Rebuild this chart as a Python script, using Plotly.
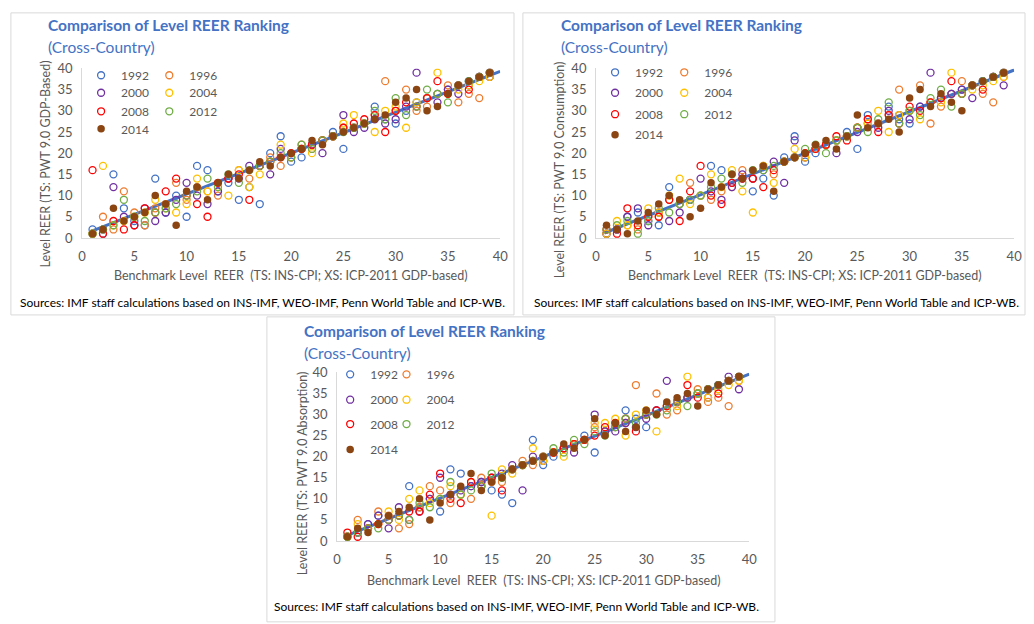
import numpy as np
import plotly.graph_objects as go

W, H = 1034, 624

years = ["1992", "1996", "2000", "2004", "2008", "2012", "2014"]
colors = ["#4472C4", "#ED7D31", "#7030A0", "#FFC000", "#FF0000", "#70AD47", "#8B4513"]
x_rank = list(range(1, 40))

# Panel 1: PWT 9.0 GDP-Based
p1_1992 = [2,1,15,7,4,3,14,6,10,5, 17,16,11,13,9,12,8,20,24,18, 19,22,23,25,21,26,27,31,28,27, 30,32,33,34,35,36,37,38,39]
p1_1996 = [1,5,2,11,6,3,7,8,13,9, 12,11,10,14,16,14,17,19,17,19, 22,21,23,24,26,26,27,29,37,30, 35,30,31,34,36,32,34,33,38]
p1_2000 = [1,2,12,5,3,7,4,6,9,13, 10,8,11,14,14,17,17,15,21,19, 21,22,20,24,29,25,26,28,27,28, 31,39,33,32,35,34,36,38,38]
p1_2004 = [1,17,3,4,5,6,9,7,6,8, 14,11,12,10,16,12,15,18,22,19, 21,20,23,24,27,29,27,25,30,31, 26,32,33,39,34,35,36,37,38]
p1_2008 = [16,1,4,2,3,7,6,11,14,10, 8,5,13,14,15,9,17,18,19,20, 21,22,23,24,26,27,28,29,25,30, 32,31,33,37,34,36,35,38,39]
p1_2012 = [1,2,3,9,5,4,6,7,8,10, 11,14,12,15,13,16,17,18,20,19, 22,21,23,24,25,26,27,30,28,33, 29,31,35,34,32,36,37,38,39]
p1_2014 = [1,2,7,4,5,6,10,8,3,11, 12,9,13,15,14,16,18,17,19,20, 21,23,22,24,25,26,27,28,29,32, 33,35,30,31,34,36,37,38,39]

# Panel 2: PWT 9.0 Consumption
p2_1992 = [1,2,5,6,4,3,12,8,9,10, 17,16,13,14,11,14,10,19,24,18, 20,22,23,25,21,29,27,31,28,27, 31,32,33,34,35,36,37,38,39]
p2_1996 = [1,2,3,2,5,5,9,8,13,10, 9,11,12,16,14,17,15,18,19,19, 21,22,23,24,26,28,27,29,35,30, 36,27,31,34,37,36,34,32,38]
p2_2000 = [1,2,5,7,3,6,4,6,9,14, 11,9,12,15,14,16,18,13,23,19, 21,22,20,24,25,27,26,30,29,28, 31,39,33,34,35,33,37,38,36]
p2_2004 = [1,4,3,3,7,6,10,14,8,10, 15,12,16,11,6,17,13,18,21,19, 21,22,23,24,26,27,30,25,29,30, 28,32,32,39,34,35,36,37,38]
p2_2008 = [2,1,7,3,5,5,9,4,11,17, 10,8,13,14,14,12,16,18,19,20, 21,22,24,23,26,28,25,29,27,31, 30,32,33,37,34,36,35,38,39]
p2_2012 = [2,3,4,1,4,7,6,8,9,10, 12,14,15,13,16,16,17,18,19,21, 22,20,23,24,26,25,28,32,27,30, 29,33,35,31,34,36,37,38,39]
p2_2014 = [3,2,1,4,6,8,10,9,5,7, 13,12,15,14,16,17,11,18,19,20, 22,23,21,24,29,26,27,28,25,33, 35,31,34,32,30,36,37,38,39]

# Panel 3: PWT 9.0 Absorption
p3_1992 = [1,2,4,6,5,6,13,8,10,7, 17,16,13,14,12,11,9,18,24,18, 20,22,23,25,21,26,27,31,29,27, 31,32,33,34,35,36,37,38,39]
p3_1996 = [1,5,3,7,6,3,4,8,13,12, 9,11,10,15,14,14,17,19,18,19, 21,22,23,24,27,26,27,28,37,30, 35,30,31,34,36,33,34,32,38]
p3_2000 = [1,2,4,6,3,8,5,7,10,15, 11,12,13,14,15,16,18,12,20,19, 21,22,21,24,30,26,26,28,27,29, 31,38,33,34,35,34,37,39,36]
p3_2004 = [1,4,3,4,7,5,10,12,9,10, 13,11,14,13,6,17,16,18,22,19, 21,20,23,24,28,28,29,25,30,31, 26,32,32,39,35,34,36,37,38]
p3_2008 = [2,1,3,4,5,6,7,7,11,16, 10,9,14,13,15,12,17,18,19,20, 21,22,23,24,25,27,28,29,26,30, 31,32,33,37,34,36,35,38,39]
p3_2012 = [1,2,3,3,5,6,5,9,8,10, 14,11,12,13,16,15,17,18,19,20, 22,21,24,23,26,25,27,29,28,30, 30,31,33,32,35,36,37,38,39]
p3_2014 = [1,3,2,4,6,7,8,10,5,9, 11,13,16,12,14,15,17,18,19,20, 21,23,22,24,29,25,28,26,27,31, 30,33,34,35,32,36,37,38,39]

y_titles = ["Level REER (TS: PWT 9.0 GDP-Based)",
            "Level REER (TS: PWT 9.0 Consumption)",
            "Level REER (TS: PWT 9.0 Absorption)"]
x_title = "Benchmark Level  REER  (TS: INS-CPI; XS: ICP-2011 GDP-based)"
title_text = "Comparison of Level REER Ranking"
subtitle_text = "(Cross-Country)"
source_text = "Sources: IMF staff calculations based on INS-IMF, WEO-IMF, Penn World Table and ICP-WB."
x_ticks = [0, 5, 10, 15, 20, 25, 30, 35, 40]

panels_data = [
    [p1_1992, p1_1996, p1_2000, p1_2004, p1_2008, p1_2012, p1_2014],
    [p2_1992, p2_1996, p2_2000, p2_2004, p2_2008, p2_2012, p2_2014],
    [p3_1992, p3_1996, p3_2000, p3_2004, p3_2008, p3_2012, p3_2014],
]

FONT = "Lato, Carlito, Calibri, sans-serif"
GRAY = "#595959"
BLUE = "#4472C4"

# layout geometry in pixels
plot_boxes = [(79, 502, 62, 236), (599, 1022, 62, 236), (337, 754, 374, 547)]
frames = [(7, 5, 516, 315), (525, 5, 1033, 315), (266, 317, 780, 630)]
title_pos = [(42, 17), (562, 17), (302, 331)]
sub_pos = [(42, 40), (562, 40), (302, 354)]
ytitle_pos = [(42, 160), (562, 166), (302, 477)]
xtitle_pos = [(290, 275), (810, 275), (546, 588)]
src_pos = [(262, 302), (782, 302), (519, 614)]
leg_cols = [(113, 172), (633, 693), (365, 412)]
leg_rows = [(74, 92, 111, 129), (71, 92, 114, 135), (381, 407, 432, 458)]
leg_shift = (-15, -5)   # symbol offset per column (plotly puts text 20px after the symbol)

def px(x):
    return x / W

def py(y):
    return 1 - y / H

fig = go.Figure()
layout = dict(width=W, height=H, margin=dict(l=0, r=0, t=0, b=0),
              paper_bgcolor="white", plot_bgcolor="white",
              font=dict(family=FONT, color=GRAY, size=12), showlegend=True)
annotations = []
shapes = []
leg_n = 0
for p in range(3):
    xa = "x" if p == 0 else f"x{p+1}"
    ya = "y" if p == 0 else f"y{p+1}"
    xs, ys = [], []
    for s in panels_data[p]:
        xs += x_rank
        ys += s
    k, b = np.polyfit(xs, ys, 1)
    lx = np.array([0.8, 40])
    fig.add_trace(go.Scatter(x=lx, y=k * lx + b, mode="lines", xaxis=xa, yaxis=ya,
                             line=dict(color=BLUE, width=3), showlegend=False,
                             hoverinfo="skip", cliponaxis=False))
    for i, (yr, col, vals) in enumerate(zip(years, colors, panels_data[p])):
        leg_n += 1
        lname = "legend" if leg_n == 1 else f"legend{leg_n}"
        filled = yr == "2014"
        marker = dict(size=7.5, color=col, symbol="circle") if filled else \
            dict(size=7, color=col, symbol="circle-open", line=dict(width=1.3, color=col))
        fig.add_trace(go.Scatter(x=x_rank, y=vals, mode="markers", name=yr,
                                 xaxis=xa, yaxis=ya, marker=marker, legend=lname))
        cx = leg_cols[p][i % 2] + leg_shift[i % 2]
        cy = leg_rows[p][i // 2] - 5
        layout[lname] = dict(x=px(cx - 20), y=py(cy), xanchor="left", yanchor="middle",
                             bgcolor="rgba(0,0,0,0)", borderwidth=0,
                             font=dict(family=FONT, size=12, color=GRAY),
                             orientation="v", itemclick=False, itemdoubleclick=False)
    x0, x1, y0, y1 = plot_boxes[p]
    axis_common = dict(range=[0, 40], tickvals=x_ticks, showgrid=False, zeroline=False,
                       showline=True, linecolor="#D9D9D9", linewidth=1, ticks="",
                       tickfont=dict(family=FONT, size=13, color=GRAY), fixedrange=True)
    layout["xaxis" if p == 0 else f"xaxis{p+1}"] = dict(axis_common, domain=[px(x0), px(x1)],
                                                        anchor=ya, ticklabelstandoff=6)
    layout["yaxis" if p == 0 else f"yaxis{p+1}"] = dict(axis_common, domain=[py(y1), py(y0)],
                                                        anchor=xa, ticklabelstandoff=6)
    fx0, fy0, fx1, fy1 = frames[p]
    shapes.append(dict(type="rect", xref="paper", yref="paper", x0=px(fx0), x1=px(fx1),
                       y0=py(fy1), y1=py(fy0), line=dict(color="#D9D9D9", width=1),
                       fillcolor="rgba(0,0,0,0)", layer="below"))
    annotations.append(dict(text=f"<b>{title_text}</b>", x=px(title_pos[p][0]), y=py(title_pos[p][1]),
                            xref="paper", yref="paper", xanchor="left", yanchor="middle",
                            showarrow=False, font=dict(family=FONT, size=15.5, color=BLUE)))
    annotations.append(dict(text=subtitle_text, x=px(sub_pos[p][0]), y=py(sub_pos[p][1]),
                            xref="paper", yref="paper", xanchor="left", yanchor="middle",
                            showarrow=False, font=dict(family=FONT, size=15.5, color=BLUE)))
    annotations.append(dict(text=y_titles[p], x=px(ytitle_pos[p][0]), y=py(ytitle_pos[p][1]),
                            xref="paper", yref="paper", xanchor="center", yanchor="middle",
                            textangle=-90, showarrow=False,
                            font=dict(family=FONT, size=12.5, color=GRAY)))
    annotations.append(dict(text=x_title, x=px(xtitle_pos[p][0]), y=py(xtitle_pos[p][1]),
                            xref="paper", yref="paper", xanchor="center", yanchor="middle",
                            showarrow=False, font=dict(family=FONT, size=12.5, color=GRAY)))
    annotations.append(dict(text=source_text, x=px(src_pos[p][0]), y=py(src_pos[p][1]),
                            xref="paper", yref="paper", xanchor="center", yanchor="middle",
                            showarrow=False, font=dict(family=FONT, size=12.0, color="black")))

layout["annotations"] = annotations
layout["shapes"] = shapes
fig.update_layout(**layout)
fig.write_html("out.html", config={"displayModeBar": False},
               post_script="document.body.style.margin='0';document.body.style.overflow='hidden';")
